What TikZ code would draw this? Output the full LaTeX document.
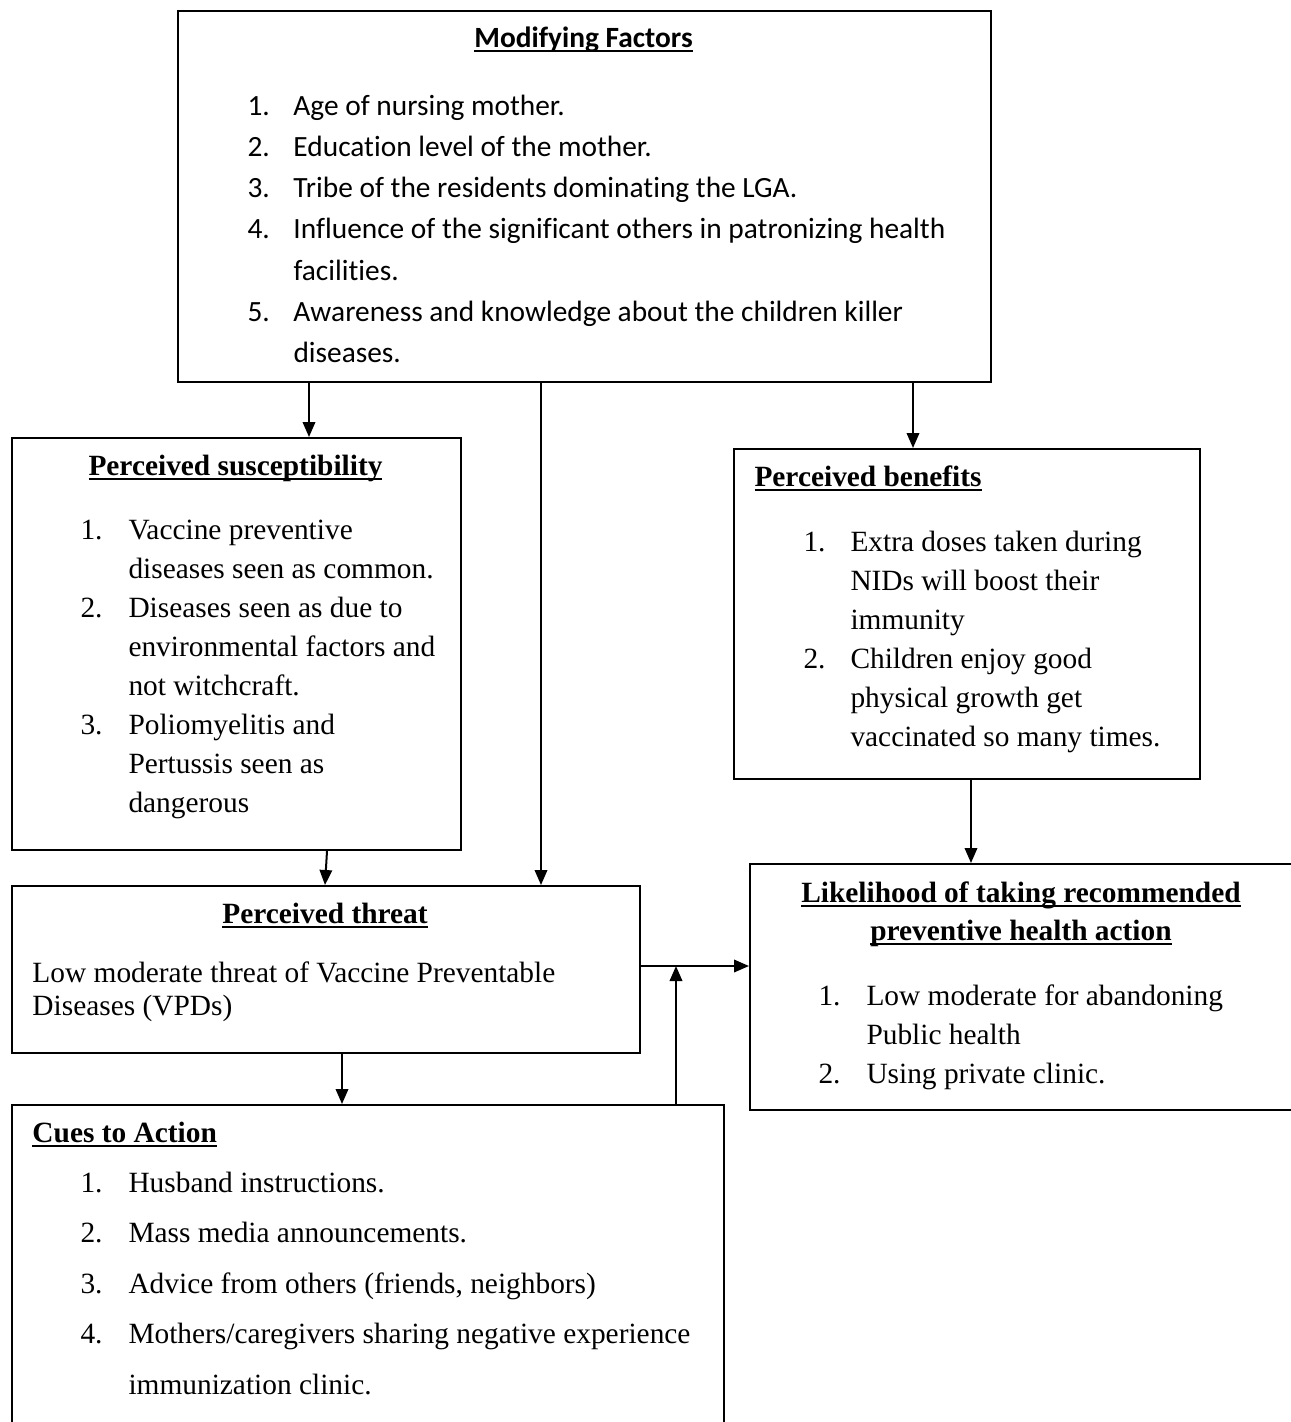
\documentclass[tikz,border=0pt]{standalone}
\usepackage{fontspec}
\setmainfont{Liberation Serif}
\newfontfamily\calibri[Ligatures={NoCommon}]{Carlito}
\usepackage{tikz}
\usetikzlibrary{arrows.meta,positioning}

\newcommand{\hbmul}[1]{\setbox0\hbox{#1}\rlap{\rule[-1.9pt]{\wd0}{0.8pt}}\box0}

\tikzstyle{hbmbox} = [rectangle, draw=black, line width=0.8pt, inner sep=0pt, anchor=north west]
\tikzstyle{heading} = [inner sep=0pt, font=\bfseries\fontsize{11.75}{15.6}\selectfont]
\tikzstyle{items} = [inner sep=0pt, anchor=base west, font=\fontsize{11.75}{15.6}\selectfont]
\tikzstyle{arrow} = [line width=0.8pt,-{Stealth[inset=0pt,length=6pt,width=5pt]}]

\begin{document}
\begin{tikzpicture}[x=0.4pt,y=-0.4pt]
\useasboundingbox (0,0) rectangle (1291,1422);

% boxes
\node (mod) [hbmbox, minimum width=325.2pt, minimum height=148.4pt] at (177,10) {};
\node (sus) [hbmbox, minimum width=179.6pt, minimum height=164.8pt] at (11,437) {};
\node (ben) [hbmbox, minimum width=186.4pt, minimum height=132pt] at (733,448) {};
\node (thr) [hbmbox, minimum width=251.2pt, minimum height=66.8pt] at (11,885) {};
\node (lik) [hbmbox, minimum width=224pt, minimum height=98.4pt] at (749,863) {};
\node (cues) [hbmbox, minimum width=284.8pt, minimum height=136pt] at (11,1104) {};

% headings
\node (modtitle) [heading, anchor=base, font=\calibri\bfseries\fontsize{11.75}{16.5}\selectfont] at (583.5,47) {\hbmul{Modifying Factors}};
\node (sustitle) [heading, anchor=base] at (235.5,475) {\hbmul{Perceived susceptibility}};
\node (bentitle) [heading, anchor=base west] at (754,486) {\hbmul{Perceived benefits}};
\node (thrtitle) [heading, anchor=base] at (325,923) {\hbmul{Perceived threat}};
\node (liktitle) [heading, anchor=base, font=\bfseries\fontsize{11.75}{15.2}\selectfont] at (1021,902)
  {\begin{tabular}[t]{@{}c@{}}\hbmul{Likelihood of taking recommended}\\ \hbmul{preventive health action}\end{tabular}};
\node (cuestitle) [heading, anchor=base west] at (32,1142) {\hbmul{Cues to Action}};

% lists
\node (moditems) [items, font=\calibri\fontsize{11.75}{16.5}\selectfont] at (247,115)
  {\begin{tabular}[t]{@{}p{18.4pt}@{}l@{}}
  1. & Age of nursing mother.\\
  2. & Education level of the mother.\\
  3. & Tribe of the residents dominating the LGA.\\
  4. & Influence of the significant others in patronizing health\\
     & facilities.\\
  5. & Awareness and knowledge about the children killer\\
     & diseases.
  \end{tabular}};
\node (susitems) [items] at (80,539)
  {\begin{tabular}[t]{@{}p{19.2pt}@{}l@{}}
  1. & Vaccine preventive\\
     & diseases seen as common.\\
  2. & Diseases seen as due to\\
     & environmental factors and\\
     & not witchcraft.\\
  3. & Poliomyelitis and\\
     & Pertussis seen as\\
     & dangerous
  \end{tabular}};
\node (benitems) [items] at (803,551)
  {\begin{tabular}[t]{@{}p{18.8pt}@{}l@{}}
  1. & Extra doses taken during\\
     & NIDs will boost their\\
     & immunity\\
  2. & Children enjoy good\\
     & physical growth get\\
     & vaccinated so many times.
  \end{tabular}};
\node (thritems) [items, font=\fontsize{11.75}{13.2}\selectfont] at (32,982)
  {\begin{tabular}[t]{@{}l@{}}
  Low moderate threat of Vaccine Preventable\\
  Diseases (VPDs)
  \end{tabular}};
\node (likitems) [items] at (818,1005)
  {\begin{tabular}[t]{@{}p{19.2pt}@{}l@{}}
  1. & Low moderate for abandoning\\
     & Public health\\
  2. & Using private clinic.
  \end{tabular}};
\node (cuesitems) [items, font=\fontsize{11.75}{20.2}\selectfont] at (80,1192)
  {\begin{tabular}[t]{@{}p{19.2pt}@{}l@{}}
  1. & Husband instructions.\\
  2. & Mass media announcements.\\
  3. & Advice from others (friends, neighbors)\\
  4. & Mothers/caregivers sharing negative experience\\
     & immunization clinic.
  \end{tabular}};

% arrow positions
\coordinate (xa) at (309,0);
\coordinate (xb) at (541,0);
\coordinate (xc) at (913,0);
\coordinate (xd) at (327,0);
\coordinate (xe) at (325,0);
\coordinate (xf) at (971,0);
\coordinate (xg) at (342,0);
\coordinate (join) at (676,966);

\draw [arrow] (mod.south -| xa) -- (sus.north -| xa);
\draw [arrow] (mod.south -| xb) -- (thr.north -| xb);
\draw [arrow] (mod.south -| xc) -- (ben.north -| xc);
\draw [arrow] (sus.south -| xd) -- (thr.north -| xe);
\draw [arrow] (ben.south -| xf) -- (lik.north -| xf);
\draw [arrow] (thr.east |- join) -- (lik.west |- join);
\draw [arrow] (cues.north -| join) -- (join);
\draw [arrow] (thr.south -| xg) -- (cues.north -| xg);

\end{tikzpicture}
\end{document}
